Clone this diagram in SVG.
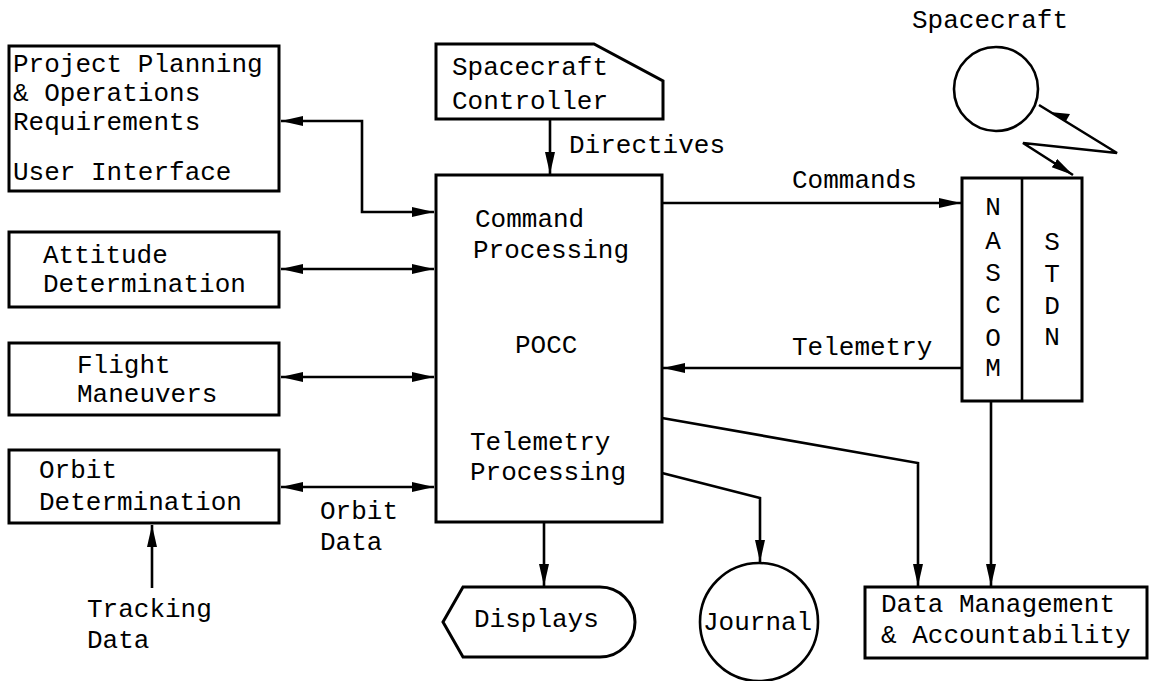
<svg xmlns="http://www.w3.org/2000/svg" width="1149" height="681" viewBox="0 0 1149 681">
  <style>
    .box { fill: #fff; stroke: #000; stroke-width: 3; }
    .ln { fill: none; stroke: #000; stroke-width: 2.6; }
    .t { font-family: "Liberation Mono", "DejaVu Sans Mono", monospace; font-size: 26px; fill: #000; }
    .c { text-anchor: middle; }
  </style>
  <defs>
    <marker id="ah" markerUnits="userSpaceOnUse" markerWidth="24" markerHeight="12" refX="22" refY="5" orient="auto-start-reverse">
      <path d="M0,0 L22,5 L0,10 z" fill="#000"/>
    </marker>
  </defs>
  <rect width="1149" height="681" fill="#fff"/>

  <!-- connectors -->
  <g id="connectors">
    <polyline class="ln" points="281,121 362,121 362,212 434,212" marker-start="url(#ah)" marker-end="url(#ah)"/>
    <line class="ln" x1="281" y1="269" x2="434" y2="269" marker-start="url(#ah)" marker-end="url(#ah)"/>
    <line class="ln" x1="281" y1="377" x2="434" y2="377" marker-start="url(#ah)" marker-end="url(#ah)"/>
    <line class="ln" x1="281" y1="487" x2="434" y2="487" marker-start="url(#ah)" marker-end="url(#ah)"/>
    <line class="ln" x1="152" y1="588" x2="152" y2="525" marker-end="url(#ah)"/>
    <line class="ln" x1="550" y1="119" x2="550" y2="174" marker-end="url(#ah)"/>
    <line class="ln" x1="662" y1="203" x2="961" y2="203" marker-end="url(#ah)"/>
    <line class="ln" x1="962" y1="368" x2="663" y2="368" marker-end="url(#ah)"/>
    <line class="ln" x1="544" y1="522" x2="544" y2="586" marker-end="url(#ah)"/>
    <polyline class="ln" points="662,473 760,498 760,562" marker-end="url(#ah)"/>
    <polyline class="ln" points="662,418 918,463 918,586" marker-end="url(#ah)"/>
    <line class="ln" x1="991" y1="401" x2="991" y2="586" marker-end="url(#ah)"/>
    <!-- radio link between spacecraft and ground network -->
    <polyline class="ln" points="1039,105 1117,153 1023,143 1073,175" marker-end="url(#ah)"/>
    <polygon points="1050,112 1066,121 1070,114" fill="#000"/>
  </g>

  <g id="user-interface">
    <rect class="box" x="9" y="46" width="270" height="145"/>
    <text class="t" x="13" y="72">Project Planning</text>
    <text class="t" x="13" y="101">&amp; Operations</text>
    <text class="t" x="13" y="130">Requirements</text>
    <text class="t" x="13" y="180">User Interface</text>
  </g>

  <g id="attitude">
    <rect class="box" x="9" y="232" width="270" height="75"/>
    <text class="t" x="43" y="263">Attitude</text>
    <text class="t" x="43" y="292">Determination</text>
  </g>

  <g id="maneuvers">
    <rect class="box" x="9" y="343" width="270" height="72"/>
    <text class="t" x="77" y="373">Flight</text>
    <text class="t" x="77" y="402">Maneuvers</text>
  </g>

  <g id="orbit">
    <rect class="box" x="9" y="450" width="270" height="73"/>
    <text class="t" x="39" y="478">Orbit</text>
    <text class="t" x="39" y="510">Determination</text>
  </g>

  <g id="controller">
    <path class="box" d="M436,44 L594,44 L663,81 L663,119 L436,119 Z"/>
    <text class="t" x="452" y="75">Spacecraft</text>
    <text class="t" x="452" y="109">Controller</text>
  </g>

  <g id="pocc">
    <rect class="box" x="436" y="175" width="226" height="347"/>
    <text class="t" x="475" y="227">Command</text>
    <text class="t" x="473" y="258">Processing</text>
    <text class="t" x="515" y="353">POCC</text>
    <text class="t" x="470" y="450">Telemetry</text>
    <text class="t" x="470" y="480">Processing</text>
  </g>

  <g id="spacecraft">
    <circle cx="996" cy="89" r="42" fill="#fff" stroke="#000" stroke-width="2.6"/>
    <text class="t" x="912" y="28">Spacecraft</text>
  </g>

  <g id="network">
    <rect class="box" x="962" y="178" width="120" height="223"/>
    <line class="ln" x1="1022" y1="178" x2="1022" y2="401"/>
    <text class="t c" x="993" y="215">N</text>
    <text class="t c" x="993" y="249">A</text>
    <text class="t c" x="993" y="281">S</text>
    <text class="t c" x="993" y="313">C</text>
    <text class="t c" x="993" y="346">O</text>
    <text class="t c" x="993" y="376">M</text>
    <text class="t c" x="1052" y="250">S</text>
    <text class="t c" x="1052" y="282">T</text>
    <text class="t c" x="1052" y="314">D</text>
    <text class="t c" x="1052" y="345">N</text>
  </g>

  <g id="displays">
    <path class="box" d="M443,622 L463,587 L600,587 A35,35 0 0 1 600,657 L463,657 Z"/>
    <text class="t" x="474" y="627">Displays</text>
  </g>

  <g id="journal">
    <circle cx="759" cy="622" r="59" fill="#fff" stroke="#000" stroke-width="2.6"/>
    <text class="t" x="703" y="630">Journal</text>
  </g>

  <g id="data-management">
    <rect class="box" x="865" y="587" width="282" height="71"/>
    <text class="t" x="881" y="612">Data Management</text>
    <text class="t" x="881" y="643">&amp; Accountability</text>
  </g>

  <g id="labels">
    <text class="t" x="569" y="153">Directives</text>
    <text class="t" x="792" y="188">Commands</text>
    <text class="t" x="792" y="355">Telemetry</text>
    <text class="t" x="320" y="519">Orbit</text>
    <text class="t" x="320" y="550">Data</text>
    <text class="t" x="87" y="617">Tracking</text>
    <text class="t" x="87" y="648">Data</text>
  </g>
</svg>
